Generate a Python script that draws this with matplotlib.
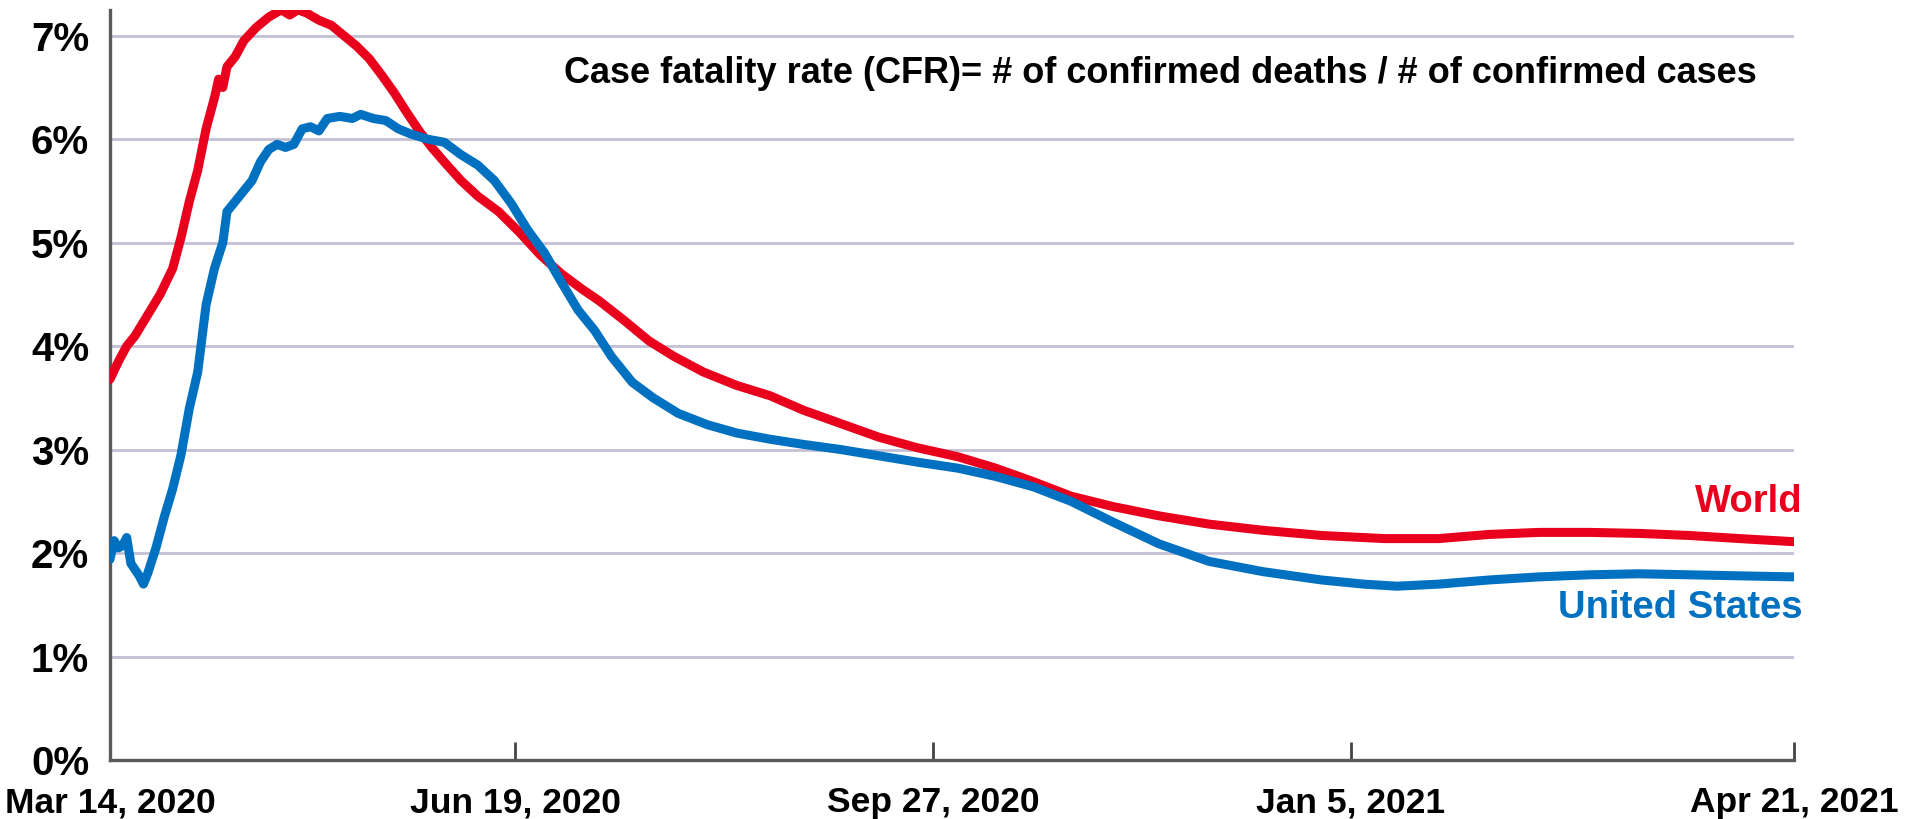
import numpy as np
import pandas as pd
import matplotlib
matplotlib.use("Agg")
import matplotlib.pyplot as plt

plt.rcParams["font.family"] = ["Liberation Sans", "DejaVu Sans"]
plt.rcParams["font.weight"] = "bold"

start = pd.Timestamp("2020-03-14")

# days since Mar 14, 2020 and CFR (%)
world_days = [0, 2, 4, 6, 9, 12, 15, 17, 19, 21, 23, 25, 26, 27, 28, 30, 32, 35, 38, 41, 43, 45, 47,
              50, 53, 56, 59, 62, 65, 68, 71, 74, 77, 80, 84, 88, 93, 98, 103, 108, 113, 117, 123,
              129, 135, 142, 150, 158, 166, 175, 184, 193, 203, 212, 221, 230, 240, 251, 263, 276,
              290, 305, 318, 330, 342, 354, 366, 378, 390, 403]
world_cfr = [3.68, 3.85, 4.0, 4.1, 4.3, 4.5, 4.75, 5.05, 5.4, 5.7, 6.1, 6.4, 6.58, 6.5, 6.7, 6.8, 6.95,
             7.08, 7.18, 7.25, 7.2, 7.25, 7.22, 7.15, 7.1, 7.0, 6.9, 6.78, 6.62, 6.45, 6.26, 6.08, 5.92,
             5.78, 5.6, 5.45, 5.3, 5.1, 4.88, 4.7, 4.55, 4.44, 4.25, 4.05, 3.9, 3.75, 3.62, 3.52, 3.38,
             3.25, 3.12, 3.02, 2.93, 2.82, 2.69, 2.55, 2.45, 2.36, 2.28, 2.22, 2.17, 2.14, 2.14, 2.18,
             2.2, 2.2, 2.19, 2.17, 2.14, 2.11]

us_days = [0, 1, 2, 3, 4, 5, 6, 7, 8, 9, 11, 13, 15, 17, 19, 21, 23, 25, 27, 28, 30, 32, 34, 36, 38,
           40, 42, 44, 46, 48, 50, 52, 55, 58, 60, 63, 66, 69, 72, 76, 80, 84, 88, 92, 96, 100, 104,
           108, 112, 116, 120, 125, 130, 136, 143, 150, 158, 166, 175, 184, 193, 203, 212, 221, 230,
           240, 251, 263, 276, 290, 300, 308, 318, 330, 342, 354, 366, 378, 390, 403]
us_cfr = [1.94, 2.12, 2.05, 2.07, 2.15, 1.9, 1.84, 1.78, 1.7, 1.8, 2.05, 2.35, 2.62, 2.95, 3.4, 3.75,
          4.4, 4.75, 5.0, 5.3, 5.4, 5.5, 5.6, 5.78, 5.9, 5.95, 5.92, 5.95, 6.1, 6.12, 6.08, 6.2, 6.22,
          6.2, 6.24, 6.2, 6.18, 6.1, 6.05, 6.0, 5.97, 5.85, 5.75, 5.6, 5.38, 5.12, 4.9, 4.62, 4.35,
          4.15, 3.9, 3.65, 3.5, 3.35, 3.24, 3.16, 3.1, 3.05, 3.0, 2.94, 2.88, 2.82, 2.74, 2.64, 2.5,
          2.3, 2.09, 1.92, 1.82, 1.74, 1.7, 1.68, 1.7, 1.74, 1.77, 1.79, 1.8, 1.79, 1.78, 1.77]

tick_dates = ["2020-03-14", "2020-06-19", "2020-09-27", "2021-01-05", "2021-04-21"]
tick_labels = ["Mar 14, 2020", "Jun 19, 2020", "Sep 27, 2020", "Jan 5, 2021", "Apr 21, 2021"]

red = "#e8001c"
blue = "#0070c0"

fig = plt.figure(figsize=(19.16, 8.19), dpi=100)
ax = fig.add_axes([0.0574, 0.072, 0.8789, 0.916])

world_x = start + pd.to_timedelta(world_days, unit="D")
us_x = start + pd.to_timedelta(us_days, unit="D")
ax.plot(world_x, world_cfr, color=red, lw=6.5, solid_capstyle="round", solid_joinstyle="round", zorder=3)
ax.plot(us_x, us_cfr, color=blue, lw=6.5, solid_capstyle="round", solid_joinstyle="round", zorder=4)

ax.set_xlim(pd.Timestamp(tick_dates[0]), pd.Timestamp(tick_dates[-1]))
ax.set_ylim(0, 7.25)

ax.set_yticks(range(0, 8))
ax.set_yticklabels([f"{i}%" for i in range(0, 8)])
for y in range(1, 8):
    ax.axhline(y, color="#c4c0d6", lw=2, zorder=1)

ax.set_xticks([pd.Timestamp(d) for d in tick_dates])
ax.set_xticklabels(tick_labels)

ax.spines["top"].set_visible(False)
ax.spines["right"].set_visible(False)
for s in ["left", "bottom"]:
    ax.spines[s].set_color("#5a5a5a")
    ax.spines[s].set_linewidth(2.4)

ax.tick_params(axis="x", direction="in", length=13, width=2, color="#444444",
               labelsize=25.5, pad=19)
ax.tick_params(axis="y", length=0, labelsize=29, pad=15)

ax.text(0.624, 0.915, "Case fatality rate (CFR)= # of confirmed deaths / # of confirmed cases",
        transform=ax.transAxes, ha="center", va="center", fontsize=26, fontweight="bold")
ax.text(1.005, 2.49 / 7.25, "World", transform=ax.transAxes, ha="right", va="center",
        fontsize=27.5, fontweight="bold", color=red)
ax.text(1.005, 1.47 / 7.25, "United States", transform=ax.transAxes, ha="right", va="center",
        fontsize=27.5, fontweight="bold", color=blue)

fig.savefig("out.png", dpi=100)
